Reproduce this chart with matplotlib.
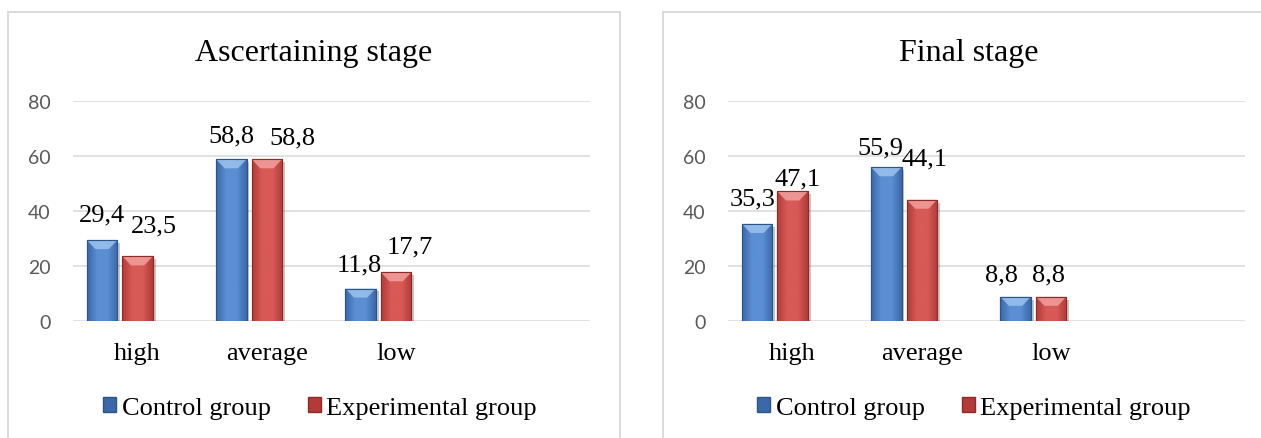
import numpy as np
import matplotlib
matplotlib.use('Agg')
import matplotlib.pyplot as plt
import matplotlib.patheffects as pe
from matplotlib.patches import Rectangle, Polygon
from matplotlib.colors import LinearSegmentedColormap

# data
categories = ['high', 'average', 'low']
series_names = ['Control group', 'Experimental group']
panel_titles = ['Ascertaining stage', 'Final stage']
ascertaining_control = [29.4, 58.8, 11.8]
ascertaining_experimental = [23.5, 58.8, 17.7]
final_control = [35.3, 55.9, 8.8]
final_experimental = [47.1, 44.1, 8.8]
yticks = [0, 20, 40, 60, 80]

# hand-placed label nudges (pixels, x right / y down), as in the source chart
nudges = [
    ([(0, -2), (0, 0), (-1, 0)], [(16, -7), (26, 2), (14, -2)]),
    ([(-4, -1), (-6, 4), (-14, 2)], [(5, 11), (3, -17), (-3, 2)]),
]

W, H = 1261, 439
SERIF = 'Liberation Serif'
GRID = '#d9d9d9'

# (edge, dark, light, bevel)
blue = ('#2c5586', '#3a68a8', '#5b8fd3', '#9cc3ee')
red = ('#8e2a28', '#b23a37', '#d85a57', '#f0a09e')


def fancy_bars(ax, xs, vals, width, cols):
    edge, dark, light, bevel = cols
    cmap = LinearSegmentedColormap.from_list('g', [dark, light, light, dark])
    grad = np.linspace(0, 1, 64).reshape(1, -1)
    bars = ax.bar(xs, vals, width, color=light, edgecolor=edge, linewidth=0.8, zorder=3)
    ypx = 80 / 220.0
    for b in bars:
        x0, w, h = b.get_x(), b.get_width(), b.get_height()
        b.set_path_effects([pe.SimplePatchShadow(offset=(2, -2), alpha=0.25), pe.Normal()])
        im = ax.imshow(grad, cmap=cmap, extent=[x0, x0 + w, 0, h], aspect='auto',
                       zorder=3.1, interpolation='bicubic')
        im.set_clip_path(b)
        bh = min(9 * ypx, h * 0.5)
        top = Polygon([[x0, h], [x0 + w, h], [x0 + w * 0.72, h - bh], [x0 + w * 0.28, h - bh]],
                      closed=True, facecolor=bevel, edgecolor='none', alpha=0.85, zorder=3.2)
        ax.add_patch(top)
        ax.add_patch(Rectangle((x0, 0), w, h, fill=False, edgecolor=edge,
                               linewidth=0.8, zorder=3.3))
    return bars


def panel(ax, control, experimental, nudge):
    xs = np.arange(len(categories))
    width = 0.235
    for vals, off, cols, nd in [(control, -0.275, blue, nudge[0]),
                                (experimental, 0.0, red, nudge[1])]:
        fancy_bars(ax, xs + off, vals, width, cols)
        for x, v, (dx, dy) in zip(xs + off, vals, nd):
            ax.annotate(f'{v:.1f}'.replace('.', ','), (x, v), xytext=(dx, 24 - dy),
                        textcoords='offset pixels', ha='center', va='center',
                        fontsize=19, family=SERIF, color='black', zorder=5)
    ax.set_xlim(-0.5, 3.5)
    ax.set_ylim(0, 80)
    ax.set_yticks(yticks)
    ax.set_xticks(xs)
    ax.set_xticklabels(categories, family=SERIF, fontsize=19)
    for lab in ax.get_yticklabels():
        lab.set_family('Lato')
        lab.set_fontsize(14)
        lab.set_color('#595959')
    ax.tick_params(axis='y', length=0, pad=16)
    ax.tick_params(axis='x', length=0, pad=15)
    ax.grid(axis='y', color=GRID, linewidth=1.1, zorder=0)
    ax.set_axisbelow(True)
    for s in ax.spines.values():
        s.set_visible(False)


fig = plt.figure(figsize=(W / 100, H / 100), dpi=100)

plot_left = [73, 728]
box_left = [8, 663]
legend_cx = [320, 974]
bottom = 1 - 322 / H
height = (322 - 102) / H

for i, (ctrl, exp) in enumerate([(ascertaining_control, ascertaining_experimental),
                                 (final_control, final_experimental)]):
    # chart border
    fig.add_artist(Rectangle((box_left[i] / W, -0.1), 612 / W, 1.1 - 13 / H,
                             transform=fig.transFigure, fill=False,
                             edgecolor=GRID, linewidth=1.4))
    ax = fig.add_axes([plot_left[i] / W, bottom, 517 / W, height])
    panel(ax, ctrl, exp, nudges[i])
    fig.text((box_left[i] + 306) / W, 1 - 54 / H, panel_titles[i], ha='center',
             va='center', fontsize=23, family=SERIF)
    handles = [Rectangle((0, 0), 1, 1, facecolor=blue[1], edgecolor=blue[0]),
               Rectangle((0, 0), 1, 1, facecolor=red[1], edgecolor=red[0])]
    fig.legend(handles, series_names, loc='center', ncol=2,
               bbox_to_anchor=(legend_cx[i] / W, 1 - 409 / H),
               frameon=False, prop={'family': SERIF, 'size': 19},
               handlelength=0.5, handleheight=0.5, handletextpad=0.2,
               columnspacing=1.4, borderpad=0)

fig.savefig('out.png', dpi=100, facecolor='white')
